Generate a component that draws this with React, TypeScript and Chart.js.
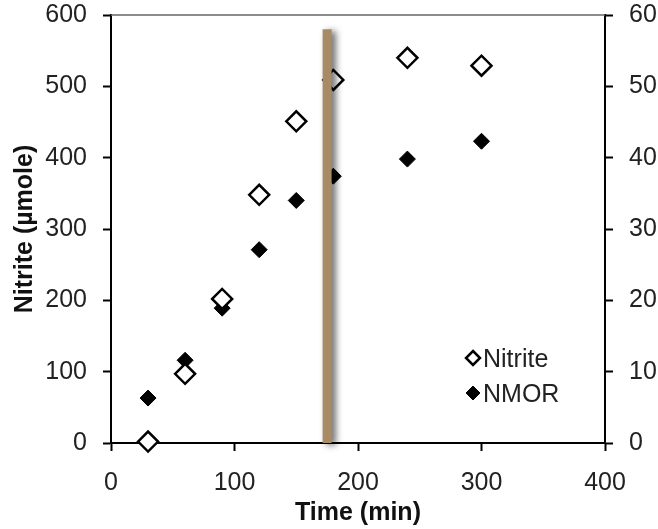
import React, { useEffect, useRef } from "react";
import { Chart, registerables } from "chart.js";

Chart.register(...registerables);

const timeMin = [30, 60, 90, 120, 150, 180, 240, 300];
const nitriteUmole = [2, 97, 202, 348, 451, 509, 540, 529];
const nmorValues = [6.3, 11.6, 18.9, 27.1, 34.0, 37.4, 39.8, 42.3];
const switchTime = 175;
const switchRange = [0, 580];
const xTicks = [0, 100, 200, 300, 400];
const leftTicks = [0, 100, 200, 300, 400, 500, 600];
const rightTicks = [0, 10, 20, 30, 40, 50, 60];

const FONT = "'Liberation Sans', Arial, sans-serif";

const shadowPlugin = {
  id: "barShadow",
  beforeDatasetDraw(chart: any, args: any) {
    if (args.meta._dataset && args.meta._dataset.label === "switch") {
      const ctx = chart.ctx;
      ctx.save();
      ctx.shadowColor = "rgba(0,0,0,0.6)";
      ctx.shadowBlur = 7;
      ctx.shadowOffsetX = 4;
      ctx.shadowOffsetY = 2;
    }
  },
  afterDatasetDraw(chart: any, args: any) {
    if (args.meta._dataset && args.meta._dataset.label === "switch") {
      chart.ctx.restore();
    }
  },
  beforeDatasetsDraw(chart: any) {
    const { ctx, chartArea } = chart;
    ctx.save();
    ctx.strokeStyle = "#666";
    ctx.lineWidth = 1.5;
    ctx.beginPath();
    ctx.moveTo(chartArea.left, chartArea.top);
    ctx.lineTo(chartArea.right, chartArea.top);
    ctx.stroke();
    ctx.restore();
  },
  afterDraw(chart: any) {
    const { ctx, chartArea } = chart;
    const items = chart.data.datasets.filter((d: any) => d.label !== "switch");
    const mx = chartArea.right - 132;
    const rows = [chartArea.bottom - 85, chartArea.bottom - 50];
    ctx.save();
    items.forEach((d: any, i: number) => {
      const y = rows[i];
      ctx.beginPath();
      ctx.moveTo(mx, y - 7);
      ctx.lineTo(mx + 7, y);
      ctx.lineTo(mx, y + 7);
      ctx.lineTo(mx - 7, y);
      ctx.closePath();
      ctx.fillStyle = d.backgroundColor;
      ctx.fill();
      ctx.lineWidth = d.label === "Nitrite" ? 2.5 : 1;
      ctx.strokeStyle = "#000";
      ctx.stroke();
      ctx.fillStyle = "#222";
      ctx.font = `25px ${FONT}`;
      ctx.textBaseline = "middle";
      ctx.textAlign = "left";
      ctx.fillText(d.label, mx + 10, y + 2);
    });
    ctx.restore();
  },
};

const fixVertical = (w: number) => (s: any) => {
  s.width = w;
  s.paddingTop = 15;
  s.paddingBottom = 0;
};

export default function App() {
  const ref = useRef<HTMLCanvasElement>(null);
  useEffect(() => {
    if (!ref.current) return;
    const chart = new Chart(ref.current, {
      type: "scatter",
      data: {
        datasets: [
          {
            label: "switch",
            data: switchRange.map((v) => ({ x: switchTime, y: v })),
            showLine: true,
            borderColor: "#a88b66",
            borderWidth: 9,
            borderCapStyle: "butt",
            pointRadius: 0,
            yAxisID: "y",
            clip: false,
          } as any,
          {
            label: "Nitrite",
            data: timeMin.map((t, i) => ({ x: t, y: nitriteUmole[i] })),
            pointStyle: "rectRot",
            pointRadius: 10,
            backgroundColor: "#fff",
            borderColor: "#000",
            borderWidth: 2.5,
            yAxisID: "y",
            clip: false,
          } as any,
          {
            label: "NMOR",
            data: timeMin.map((t, i) => ({ x: t, y: nmorValues[i] })),
            pointStyle: "rectRot",
            pointRadius: 8,
            backgroundColor: "#000",
            borderColor: "#000",
            borderWidth: 1,
            yAxisID: "y1",
            clip: false,
          } as any,
        ],
      },
      options: {
        animation: false,
        responsive: false,
        layout: { padding: { top: 0, left: 0, right: 0, bottom: 0 } },
        plugins: { legend: { display: false }, tooltip: { enabled: false } },
        scales: {
          x: {
            type: "linear",
            min: 0,
            max: 400,
            afterBuildTicks: (s: any) => {
              s.ticks = xTicks.map((v) => ({ value: v }));
            },
            afterFit: (s: any) => {
              s.height = 86;
              s.paddingLeft = 0;
              s.paddingRight = 0;
            },
            ticks: { font: { family: FONT, size: 25 }, color: "#222", padding: 17 },
            grid: { drawOnChartArea: false, drawTicks: true, tickLength: 8, tickColor: "#000", tickWidth: 2 },
            border: { display: true, color: "#000", width: 2 },
            title: {
              display: true,
              text: "Time (min)",
              font: { family: FONT, size: 25, weight: "bold" },
              color: "#111",
              padding: { top: 0, bottom: 1 },
            },
          },
          y: {
            type: "linear",
            position: "left",
            min: 0,
            max: 600,
            afterBuildTicks: (s: any) => {
              s.ticks = leftTicks.map((v) => ({ value: v }));
            },
            afterFit: fixVertical(111),
            ticks: { font: { family: FONT, size: 25 }, color: "#222", padding: 16 },
            grid: { drawOnChartArea: false, drawTicks: true, tickLength: 8, tickColor: "#000", tickWidth: 2 },
            border: { display: true, color: "#000", width: 2 },
            title: {
              display: true,
              text: "Nitrite (µmole)",
              font: { family: FONT, size: 25, weight: "bold" },
              color: "#111",
              padding: { top: 10, bottom: 0 },
            },
          },
          y1: {
            type: "linear",
            position: "right",
            min: 0,
            max: 60,
            afterBuildTicks: (s: any) => {
              s.ticks = rightTicks.map((v) => ({ value: v }));
            },
            afterFit: fixVertical(53),
            ticks: { font: { family: FONT, size: 25 }, color: "#222", padding: 16 },
            grid: { drawOnChartArea: false, drawTicks: true, tickLength: 8, tickColor: "#000", tickWidth: 2 },
            border: { display: true, color: "#000", width: 2 },
          },
        },
      } as any,
      plugins: [shadowPlugin],
    });
    return () => chart.destroy();
  }, []);
  return (
    <div style={{ position: "fixed", left: 0, top: 0, width: 658, height: 529, background: "#fff" }}>
      <canvas ref={ref} width={658} height={529} style={{ display: "block" }} />
    </div>
  );
}
